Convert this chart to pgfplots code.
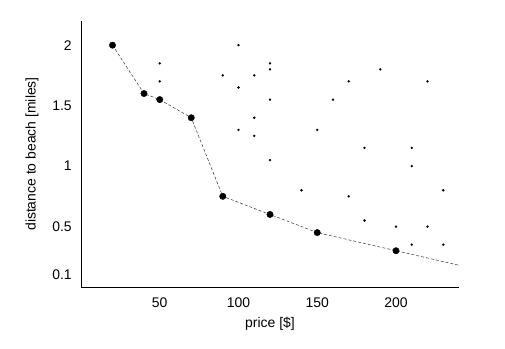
\documentclass[border=0pt]{standalone}
\usepackage{fontspec}
\setmainfont{Liberation Sans}
\usepackage{pgfplots}
\pgfplotsset{compat=1.18}
\begin{document}
\fontsize{14}{16}\selectfont
\begin{tikzpicture}
\begin{axis}[
  scale only axis,
  width=378bp, height=266bp,
  xmin=0, xmax=240, ymin=0, ymax=2.2,
  axis x line*=bottom, axis y line*=left,
  axis line style={line width=0.8pt, -},
  xtick={50,100,150,200},
  ytick={0.1,0.5,1,1.5,2},
  yticklabels={0.1,0.5,1,1.5,2},
  major tick length=0pt,
  /pgf/number format/assume math mode=true,
  ticklabel style={font=\fontsize{14}{16}\selectfont},
  xticklabel style={yshift=-6bp},
  yticklabel style={xshift=-4.5bp},
  xlabel={price [\$]},
  ylabel={distance to beach [miles]},
  label style={font=\fontsize{14}{16}\selectfont},
  xlabel style={at={(axis description cs:0.5,-0.139)}, anchor=center},
  ylabel style={at={(axis description cs:-0.1296,0.5)}, anchor=center},
  clip=false,
]
\addplot[only marks, mark=*, mark size=1bp, black] coordinates {
 (50,1.85) (50,1.7) (100,2.0) (90,1.75) (110,1.75) (120,1.85) (120,1.8)
 (100,1.65) (120,1.55) (110,1.4) (100,1.3) (110,1.25) (120,1.05)
 (140,0.8) (150,1.3) (160,1.55) (170,1.7) (170,0.75) (180,1.15) (180,0.55)
 (190,1.8) (200,0.5) (210,1.15) (210,1.0) (210,0.35) (220,1.7) (220,0.5)
 (230,0.8) (230,0.35)
};
\addplot[densely dashed, line width=0.5pt, black!80] coordinates {
 (20,2) (40,1.6) (50,1.55) (70,1.4) (90,0.75) (120,0.6) (150,0.45) (200,0.3) (240,0.18)
};
\addplot[only marks, mark=*, mark size=3.2bp, black] coordinates {
 (20,2) (40,1.6) (50,1.55) (70,1.4) (90,0.75) (120,0.6) (150,0.45) (200,0.3)
};
\end{axis}
\path[use as bounding box] (-81bp,-62bp) rectangle (424bp,287bp);
\end{tikzpicture}
\end{document}
